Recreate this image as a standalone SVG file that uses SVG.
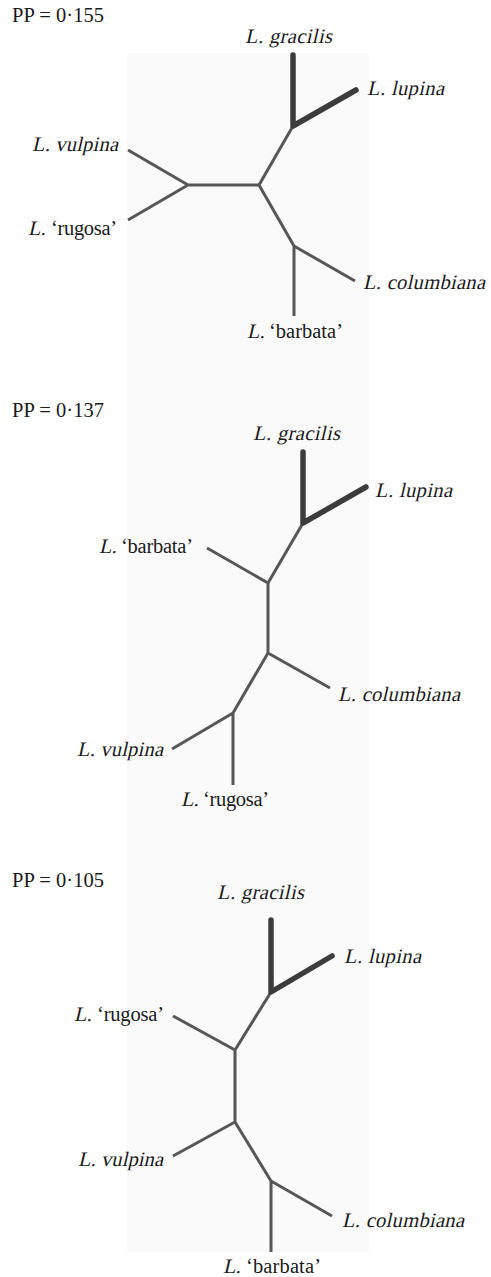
<svg xmlns="http://www.w3.org/2000/svg" width="491" height="1277" viewBox="0 0 491 1277">
<style>
text{font-family:"Liberation Serif","Times New Roman",serif;font-size:20.5px;fill:#1a1a1a}
.br{stroke:#575757;stroke-width:3;fill:none;stroke-linecap:butt;stroke-linejoin:round}
.bk{stroke:#3c3c3c;stroke-width:5.5;fill:none;stroke-linecap:round;stroke-linejoin:round}
</style>
<rect width="491" height="1277" fill="#ffffff"/>
<rect x="127" y="53" width="242" height="1199" fill="#fafafa"/>

<g id="panel1">
<text id="pp1" x="12" y="22" textLength="92">PP = 0·155</text>
<g id="p1-connectors">
<path class="br" d="M293,126 L259,185 L188,185 M188,185 L128,150 M188,185 L128,220 M259,185 L294,246 L355,281 M294,246 L294,316"/>
<path class="bk" d="M293,55 L293,126 L356,90"/>
</g>
<g id="p1-gracilis"><text transform="translate(245,43) skewX(-13)" textLength="87">L. gracilis</text></g>
<g id="p1-lupina"><text transform="translate(367,95) skewX(-13)" textLength="77">L. lupina</text></g>
<g id="p1-vulpina"><text transform="translate(32,151) skewX(-13)" textLength="86">L. vulpina</text></g>
<g id="p1-rugosa"><text transform="translate(28,235) skewX(-13)">L.</text><text x="51" y="235" textLength="66">‘rugosa’</text></g>
<g id="p1-columbiana"><text transform="translate(363,289) skewX(-13)" textLength="122">L. columbiana</text></g>
<g id="p1-barbata"><text transform="translate(247,338) skewX(-13)">L.</text><text x="269" y="338" textLength="74">‘barbata’</text></g>
</g>

<g id="panel2">
<text id="pp2" x="12" y="417" textLength="92">PP = 0·137</text>
<g id="p2-connectors">
<path class="br" d="M303,523 L268,583 L268,653 M268,583 L207,548 M268,653 L330,688 M268,653 L233,713 L172,749 M233,713 L233,785"/>
<path class="bk" d="M303,452 L303,523 L366,487"/>
</g>
<g id="p2-gracilis"><text transform="translate(253,440) skewX(-13)" textLength="87">L. gracilis</text></g>
<g id="p2-lupina"><text transform="translate(375,497) skewX(-13)" textLength="77">L. lupina</text></g>
<g id="p2-barbata"><text transform="translate(99,553) skewX(-13)">L.</text><text x="121" y="553" textLength="72">‘barbata’</text></g>
<g id="p2-columbiana"><text transform="translate(338,701) skewX(-13)" textLength="122">L. columbiana</text></g>
<g id="p2-vulpina"><text transform="translate(77,756) skewX(-13)" textLength="86">L. vulpina</text></g>
<g id="p2-rugosa"><text transform="translate(181,806) skewX(-13)">L.</text><text x="203" y="806" textLength="66">‘rugosa’</text></g>
</g>

<g id="panel3">
<text id="pp3" x="12" y="887" textLength="92">PP = 0·105</text>
<g id="p3-connectors">
<path class="br" d="M271,992 L235,1050 L235,1122 M235,1050 L173,1016 M235,1122 L173,1156 M235,1122 L271,1181 L332,1216 M271,1181 L271,1252"/>
<path class="bk" d="M271,920 L271,992 L332,956"/>
</g>
<g id="p3-gracilis"><text transform="translate(217,899) skewX(-13)" textLength="87">L. gracilis</text></g>
<g id="p3-lupina"><text transform="translate(344,963) skewX(-13)" textLength="77">L. lupina</text></g>
<g id="p3-rugosa"><text transform="translate(74,1021) skewX(-13)">L.</text><text x="97" y="1021" textLength="67">‘rugosa’</text></g>
<g id="p3-vulpina"><text transform="translate(78,1166) skewX(-13)" textLength="85">L. vulpina</text></g>
<g id="p3-columbiana"><text transform="translate(342,1227) skewX(-13)" textLength="122">L. columbiana</text></g>
<g id="p3-barbata"><text transform="translate(223,1273) skewX(-13)">L.</text><text x="246" y="1273" textLength="75">‘barbata’</text></g>
</g>
</svg>
